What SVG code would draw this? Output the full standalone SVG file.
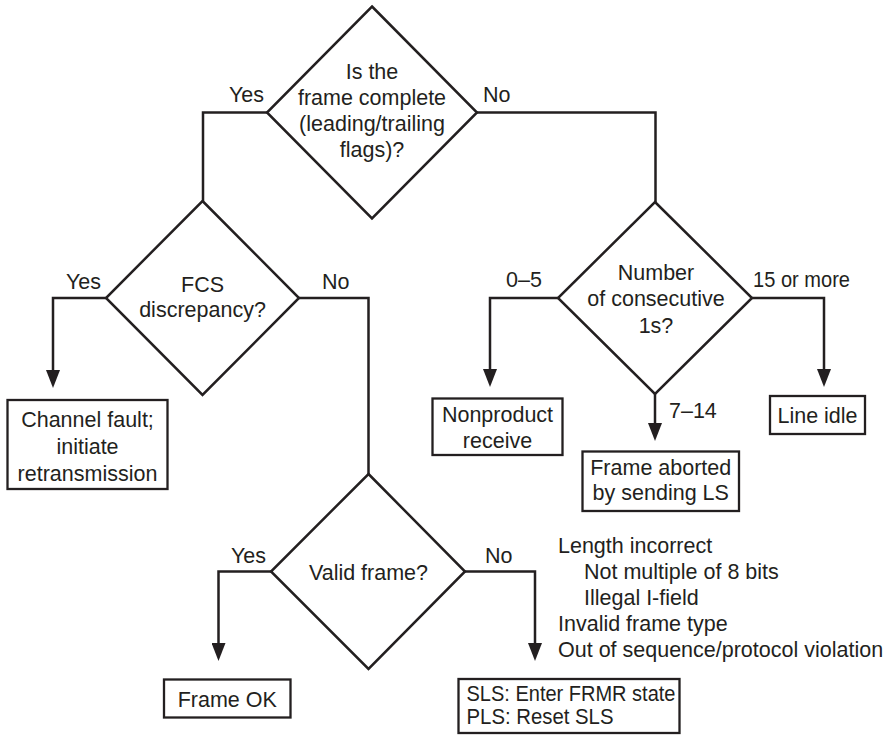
<svg xmlns="http://www.w3.org/2000/svg" width="893" height="735" viewBox="0 0 893 735">
  <style>
    text { font-family: "Liberation Sans", Arial, sans-serif; font-size: 21.5px; fill: #231f20; }
    .c { text-anchor: middle; }
    .shape { fill: #ffffff; stroke: #231f20; stroke-width: 2.5; }
    .box { fill: #ffffff; stroke: #231f20; stroke-width: 2.3; }
    .wire { fill: none; stroke: #231f20; stroke-width: 2.5; stroke-linejoin: miter; }
    .arrow { fill: none; stroke: #231f20; stroke-width: 2.5; marker-end: url(#head); }
  </style>
  <defs>
    <marker id="head" markerUnits="userSpaceOnUse" markerWidth="18" markerHeight="14" refX="12" refY="7" orient="auto">
      <path d="M0,0 L18,7 L0,14 z" fill="#231f20"/>
    </marker>
  </defs>
  <rect width="893" height="735" fill="#ffffff"/>

  <!-- connectors -->
  <g id="connectors">
    <path class="wire" d="M267,112.5 H203 V201"/>
    <path class="wire" d="M477,112.5 H655.5 V202"/>
    <path class="arrow" d="M106,298 H53 V382"/>
    <path class="wire" d="M299,298 H368.5 V474"/>
    <path class="arrow" d="M558,298 H490 V381"/>
    <path class="arrow" d="M752,298 H824 V381"/>
    <path class="arrow" d="M655,394 V435"/>
    <path class="arrow" d="M271,571.5 H218.5 V655"/>
    <path class="arrow" d="M465,571.5 H535 V655"/>
    <!-- branch labels -->
    <text x="229" y="102">Yes</text>
    <text x="483" y="102">No</text>
    <text x="66" y="289">Yes</text>
    <text x="322" y="289">No</text>
    <text x="506" y="287">0–5</text>
    <text x="753" y="287" textLength="97" lengthAdjust="spacingAndGlyphs">15 or more</text>
    <text x="669" y="418">7–14</text>
    <text x="231" y="563">Yes</text>
    <text x="485" y="563">No</text>
  </g>

  <g id="frame-complete">
    <polygon class="shape" points="372,6.5 477,112.5 372,218.5 267,112.5"/>
    <text class="c" x="372" y="79">Is the</text>
    <text class="c" x="372" y="105">frame complete</text>
    <text class="c" x="372" y="131">(leading/trailing</text>
    <text class="c" x="372" y="157">flags)?</text>
  </g>

  <g id="fcs-discrepancy">
    <polygon class="shape" points="202.5,201 299,298 202.5,395 106,298"/>
    <text class="c" x="202.5" y="291.5">FCS</text>
    <text class="c" x="202.5" y="316.5">discrepancy?</text>
  </g>

  <g id="consecutive-ones">
    <polygon class="shape" points="655,202 752,298 655,394 558,298"/>
    <text class="c" x="656" y="279.5">Number</text>
    <text class="c" x="656" y="306">of consecutive</text>
    <text class="c" x="656" y="332.5">1s?</text>
  </g>

  <g id="valid-frame">
    <polygon class="shape" points="368.5,474 465,571.5 368.5,669 271,571.5"/>
    <text class="c" x="368.5" y="580">Valid frame?</text>
  </g>

  <g id="channel-fault">
    <rect class="box" x="7.5" y="400" width="160" height="89"/>
    <text class="c" x="87.5" y="427">Channel fault;</text>
    <text class="c" x="87.5" y="454">initiate</text>
    <text class="c" x="87.5" y="480.5">retransmission</text>
  </g>

  <g id="nonproduct-receive">
    <rect class="box" x="432.5" y="398.5" width="130" height="56.5"/>
    <text class="c" x="497.5" y="421.5">Nonproduct</text>
    <text class="c" x="497.5" y="448">receive</text>
  </g>

  <g id="line-idle">
    <rect class="box" x="770" y="396" width="95" height="38"/>
    <text class="c" x="817.5" y="423">Line idle</text>
  </g>

  <g id="frame-aborted">
    <rect class="box" x="582.5" y="451.5" width="156.5" height="59.5"/>
    <text class="c" x="660.75" y="474.5">Frame aborted</text>
    <text class="c" x="660.75" y="499.5">by sending LS</text>
  </g>

  <g id="frame-ok">
    <rect class="box" x="164" y="679.5" width="126.5" height="38"/>
    <text class="c" x="227.25" y="706.5">Frame OK</text>
  </g>

  <g id="frmr-state">
    <rect class="box" x="458.5" y="679" width="221" height="54"/>
    <text x="466.5" y="701" textLength="209" lengthAdjust="spacingAndGlyphs">SLS: Enter FRMR state</text>
    <text x="466.5" y="724" textLength="147" lengthAdjust="spacingAndGlyphs">PLS: Reset SLS</text>
  </g>

  <g id="invalid-reasons">
    <text x="558" y="553">Length incorrect</text>
    <text x="584" y="579">Not multiple of 8 bits</text>
    <text x="584" y="605">Illegal I-field</text>
    <text x="558" y="631">Invalid frame type</text>
    <text x="558" y="657">Out of sequence/protocol violation</text>
  </g>
</svg>
